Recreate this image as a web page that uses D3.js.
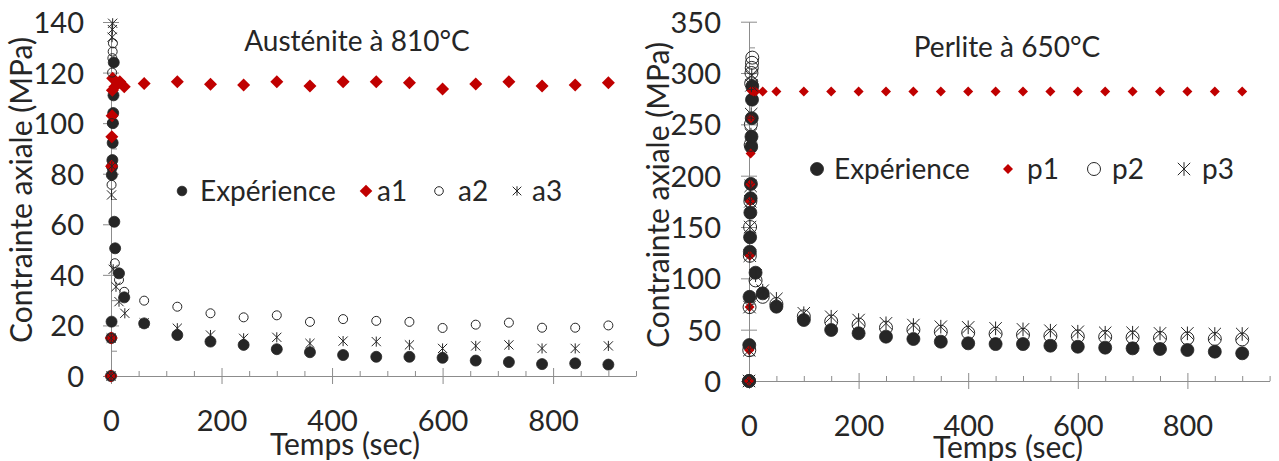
<!DOCTYPE html>
<html><head><meta charset="utf-8">
<script src="https://cdn.jsdelivr.net/npm/d3@7"></script>
<style>
html,body{margin:0;padding:0;background:#fff;}
svg{display:block;font-family:Lato,"Open Sans",sans-serif;}
</style></head><body>
<svg id="chart" width="1279" height="461"></svg>
<script>
// ---------------- Austénite à 810°C ----------------
const austTimeTail = [60,120,180,240,300,360,420,480,540,600,660,720,780,840,900];
const austExpTail  = [20.8,16.2,13.6,12.3,10.6,9.4,8.3,7.6,7.6,7.2,6.1,5.5,4.7,5.0,4.5];
const austA1Tail   = [115.7,116.4,115.4,115.1,116.4,114.7,116.4,116.4,116,113.5,115.5,116.4,114.7,115.1,116];
const austA2Tail   = [29.8,27.4,24.8,23.2,24,21.4,22.5,21.8,21.4,19,20.3,21.1,19.1,19.1,20];
const austA3Tail   = [21,18.9,16.2,14.9,15.3,12.9,13.8,13.6,12.3,10.9,11.9,12.3,10.9,10.9,11.9];
const austExpEarlyT = [0,0.5,1,1.5,2,2.5,3,3.5,4,4.5,5,6,7.5,14.5,24];
const austExpEarlyV = [0,15,21.5,79.5,82.8,85.4,92.2,100,104,111,124,61,50.5,40.6,31.1];
const austA1EarlyT  = [0,0.5,1,1.5,2,2.5,3,7,16,24];
const austA1EarlyV  = [0,15,83,94.6,102.9,113,117.8,114.4,116.4,114.4];
const austA2EarlyT  = [0,0.5,1,1.5,2,2.5,3,3.5,7,14.5,24];
const austA2EarlyV  = [0,15,75.6,100,120,125.7,128.3,131.6,44.6,38,33.3];
const austA3EarlyT  = [0,0.5,1,1.5,2,2.5,3,4,9,14.5,25];
const austA3EarlyV  = [0,15,71.6,83,134,137,139.5,42.2,35.3,29.4,24.8];
const austYTicks = [0,20,40,60,80,100,120,140];
const austXTicks = [0,200,400,600,800];
const austLegend = ["Expérience","a1","a2","a3"];

// ---------------- Perlite à 650°C ----------------
const perlTimeTail = [50,100,150,200,250,300,350,400,450,500,550,600,650,700,750,800,850,900];
const perlExpTail  = [72.4,59.4,49.7,46.5,43.2,40.9,38.3,36.7,36,36,34.4,33.4,32.5,31.8,31.2,30.2,28.6,27];
const perlP1Tail   = [282,282,282,282,282,282,282,282,282,282,282,282,282,282,282,282,282,282];
const perlP2Tail   = [75,63,58,55,52,50,48,47,46,45,44,43.5,43,42.5,42,41.5,41,40.5];
const perlP3Tail   = [80,66,62.6,59.4,56.2,54.5,52.9,52.3,51.3,50.3,49,48,47,47,46.4,46.4,45.8,45.8];
const perlExpEarlyT = [0,0.5,1,1.5,2,2.5,3,3.5,4,4.5,5,5.5,6,12,25];
const perlExpEarlyV = [0,35,82,126,140,164,178,192,228,238,256,274,287,105.5,85.4];
const perlP1EarlyT  = [0,0.5,1,1.5,2,2.5,3,3.5,4,8,12,25];
const perlP1EarlyV  = [0,30,72,122,175,191.6,221.7,256,283,282,282,282];
const perlP2EarlyT  = [0,0.5,1,1.5,2,2.5,3,3.5,4,4.5,5,5.5,6,12,25];
const perlP2EarlyV  = [0,30,72,122,150,175,230,250,290,300,305,310,315,98,82];
const perlP3EarlyT  = [0,0.5,1,1.5,2,2.5,3,3.5,4,4.5,5,12,25];
const perlP3EarlyV  = [0,30,72,122,150,175,190,240,260,288,298,103,88];
const perlYTicks = [0,50,100,150,200,250,300,350];
const perlXTicks = [0,200,400,600,800];
const perlLegend = ["Expérience","p1","p2","p3"];

const TEXT = "#262626", AXIS = "#8c8c8c", RED = "#c00000";
const svg = d3.select("#chart");

function pts(t, v) { return t.map((d, i) => ({t: d, v: v[i]})); }

function marker(g, type, cx, cy, s) {
  if (type === "dot") {
    g.append("circle").attr("cx", cx).attr("cy", cy).attr("r", s)
      .attr("fill", TEXT).attr("stroke", TEXT).attr("stroke-width", 0.8);
  } else if (type === "diamond") {
    g.append("path").attr("transform", `translate(${cx},${cy})`)
      .attr("d", `M0,${-s}L${s},0L0,${s}L${-s},0Z`).attr("fill", RED);
  } else if (type === "ring") {
    g.append("circle").attr("cx", cx).attr("cy", cy).attr("r", s)
      .attr("fill", "none").attr("stroke", TEXT).attr("stroke-width", 1);
  } else {
    g.append("path").attr("transform", `translate(${cx},${cy})`)
      .attr("d", `M${-s},${-s}L${s},${s}M${-s},${s}L${s},${-s}M0,${-s*1.1}L0,${s*1.1}`)
      .attr("fill", "none").attr("stroke", TEXT).attr("stroke-width", 1);
  }
}

function panel(c) {
  const g = svg.append("g");
  const x = d3.scaleLinear().domain([0, c.xMax]).range([c.x0, c.x1]);
  const y = d3.scaleLinear().domain([0, c.yMax]).range([c.y0, c.y1]);

  const xMinor = d3.range(0, c.xMax + 1, c.xMinorStep).filter(v => c.xTicks.indexOf(v) < 0);
  const yMinor = d3.range(0, c.yMax + 1, c.yMinorStep).filter(v => c.yTicks.indexOf(v) < 0);
  const gxm = g.append("g").attr("transform", `translate(0,${c.y0})`)
    .call(d3.axisBottom(x).tickValues(xMinor).tickSize(-5).tickFormat(""));
  gxm.select(".domain").remove();
  const gym = g.append("g").attr("transform", `translate(${c.x0},0)`)
    .call(d3.axisLeft(y).tickValues(yMinor).tickSize(-6).tickFormat(""));
  gym.select(".domain").remove();

  const gx = g.append("g").attr("transform", `translate(0,${c.y0})`)
    .call(d3.axisBottom(x).tickValues(c.xTicks).tickSize(8).tickSizeOuter(0).tickFormat(d3.format("d")));
  gx.selectAll(".tick line").attr("y1", -8);
  gx.selectAll(".tick text").attr("y", c.xLabelOff).attr("dy", null)
    .attr("font-size", 29).attr("font-family", "Lato").attr("fill", TEXT);
  const gy = g.append("g").attr("transform", `translate(${c.x0},0)`)
    .call(d3.axisLeft(y).tickValues(c.yTicks).tickSize(8).tickSizeOuter(0).tickFormat(d3.format("d")));
  gy.selectAll(".tick line").attr("x1", 8);
  gy.selectAll(".tick text").attr("x", -c.yLabelOff).attr("dy", "0.36em")
    .attr("font-size", 29).attr("font-family", "Lato").attr("fill", TEXT);
  [gxm, gym, gx, gy].forEach(a => {
    a.selectAll("line").attr("stroke", AXIS);
    a.selectAll(".domain").attr("stroke", AXIS);
  });

  const ms = g.append("g");
  c.series.forEach(s => {
    s.data.forEach(d => marker(ms, s.type, x(d.t), y(d.v), s.size));
  });

  const lg = g.append("g").attr("font-size", c.legendFont).attr("fill", TEXT);
  c.legend.forEach((l, i) => {
    marker(lg, c.series[i].type, l.mx, c.legendY, c.series[i].lsize);
    lg.append("text").attr("x", l.tx).attr("y", c.legendY).attr("dy", "0.36em").text(l.label);
  });

  g.append("text").attr("x", c.titleX).attr("y", c.titleY).attr("text-anchor", "middle")
    .attr("font-size", 28).attr("fill", TEXT).text(c.title);
  g.append("text").attr("x", c.xTitleX).attr("y", c.xTitleY).attr("text-anchor", "middle")
    .attr("font-size", 30).attr("fill", TEXT).text("Temps (sec)");
  g.append("text").attr("transform", `translate(${c.yTitleX},${c.yTitleY}) rotate(-90)`)
    .attr("text-anchor", "middle").attr("font-size", 30).attr("fill", TEXT)
    .text("Contrainte axiale (MPa)");
}

panel({
  xMax: 950, yMax: 140, x0: 111, x1: 636, y0: 376, y1: 22,
  xTicks: austXTicks, yTicks: austYTicks, xMinorStep: 50, yMinorStep: 10,
  xLabelOff: 55, yLabelOff: 27,
  series: [
    {type: "dot", size: 5.5, lsize: 4.8, data: pts(austExpEarlyT.concat(austTimeTail), austExpEarlyV.concat(austExpTail))},
    {type: "diamond", size: 6.5, lsize: 6.3, data: pts(austA1EarlyT.concat(austTimeTail), austA1EarlyV.concat(austA1Tail))},
    {type: "ring", size: 4.5, lsize: 4.3, data: pts(austA2EarlyT.concat(austTimeTail), austA2EarlyV.concat(austA2Tail))},
    {type: "star", size: 4.6, lsize: 4.3, data: pts(austA3EarlyT.concat(austTimeTail), austA3EarlyV.concat(austA3Tail))}
  ],
  legendY: 191, legendFont: 28,
  legend: [
    {label: austLegend[0], mx: 182, tx: 200},
    {label: austLegend[1], mx: 366, tx: 377},
    {label: austLegend[2], mx: 439, tx: 458},
    {label: austLegend[3], mx: 517, tx: 532}
  ],
  title: "Austénite à 810°C", titleX: 357, titleY: 51,
  xTitleX: 345, xTitleY: 455, yTitleX: 32, yTitleY: 190
});

panel({
  xMax: 950, yMax: 350, x0: 749, x1: 1269.6, y0: 381, y1: 21.7,
  xTicks: perlXTicks, yTicks: perlYTicks, xMinorStep: 50, yMinorStep: 25,
  xLabelOff: 55, yLabelOff: 28,
  series: [
    {type: "dot", size: 6.5, lsize: 6.5, data: pts(perlExpEarlyT.concat(perlTimeTail), perlExpEarlyV.concat(perlExpTail))},
    {type: "diamond", size: 5, lsize: 5, data: pts(perlP1EarlyT.concat(perlTimeTail), perlP1EarlyV.concat(perlP1Tail))},
    {type: "ring", size: 6.5, lsize: 6.5, data: pts(perlP2EarlyT.concat(perlTimeTail), perlP2EarlyV.concat(perlP2Tail))},
    {type: "star", size: 6.2, lsize: 6.2, data: pts(perlP3EarlyT.concat(perlTimeTail), perlP3EarlyV.concat(perlP3Tail))}
  ],
  legendY: 169, legendFont: 28,
  legend: [
    {label: perlLegend[0], mx: 817, tx: 834},
    {label: perlLegend[1], mx: 1008, tx: 1027},
    {label: perlLegend[2], mx: 1094, tx: 1112},
    {label: perlLegend[3], mx: 1184, tx: 1202}
  ],
  title: "Perlite à 650°C", titleX: 1007, titleY: 57,
  xTitleX: 1008, xTitleY: 458, yTitleX: 669, yTitleY: 195
});
</script></body></html>
